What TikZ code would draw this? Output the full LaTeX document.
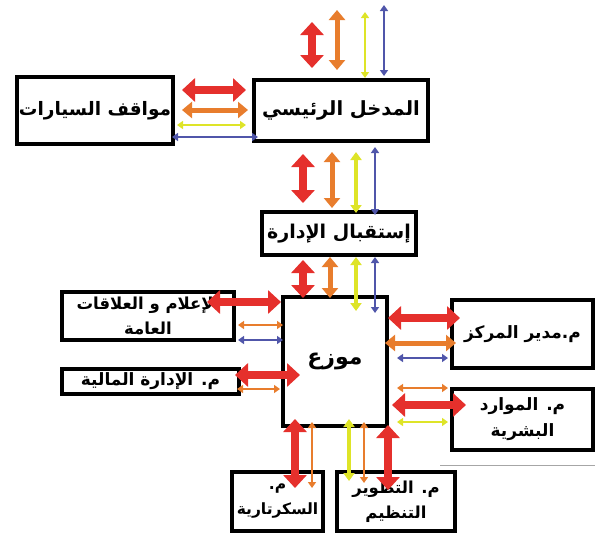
\documentclass[tikz,border=0pt]{standalone}
\usepackage{fontspec}
\usetikzlibrary{arrows.meta}
\newfontfamily\arabicfont[Script=Arabic]{DejaVu Sans}
\TeXXeTstate=1
\definecolor{ared}{RGB}{229,48,44}
\definecolor{aorange}{RGB}{232,125,45}
\definecolor{ayellow}{RGB}{222,228,40}
\definecolor{ablue}{RGB}{80,86,170}
\tikzset{
  box/.style={draw=black, line width=4pt, fill=white, inner sep=0pt, align=center,
    font=\arabicfont\bfseries\fontsize{17}{26}\selectfont},
  redA/.style={draw=ared, line width=7.5pt, {Triangle[width=23pt,length=13pt]}-{Triangle[width=23pt,length=13pt]}},
  orgM/.style={draw=aorange, line width=5pt, {Triangle[width=16pt,length=10pt]}-{Triangle[width=16pt,length=10pt]}},
  yelM/.style={draw=ayellow, line width=3.5pt, {Triangle[width=11pt,length=8pt]}-{Triangle[width=11pt,length=8pt]}},
  orgT/.style={draw=aorange, line width=2.5pt, {Triangle[width=8pt,length=6pt]}-{Triangle[width=8pt,length=6pt]}},
  yelT/.style={draw=ayellow, line width=2.5pt, {Triangle[width=8pt,length=6pt]}-{Triangle[width=8pt,length=6pt]}},
  bluT/.style={draw=ablue, line width=2.5pt, {Triangle[width=8pt,length=6pt]}-{Triangle[width=8pt,length=6pt]}},
}
\begin{document}
\begin{tikzpicture}[x=1pt,y=-1pt]
\useasboundingbox (0,0) rectangle (599,536);
% boxes
\node[box, minimum width=156pt, minimum height=67pt, font=\arabicfont\bfseries\fontsize{18.5}{24}\selectfont] (park) at (95,110.5) {\beginR مواقف السيارات\endR};
\node[box, minimum width=174pt, minimum height=61pt, font=\arabicfont\bfseries\fontsize{19.5}{24}\selectfont] (main) at (341,110.5) {\beginR المدخل الرئيسي\endR};
\node[box, minimum width=154pt, minimum height=43pt, font=\arabicfont\bfseries\fontsize{19}{22}\selectfont] (rec) at (339,233.5) {\beginR إستقبال الإدارة\endR};
\node[box, minimum width=104pt, minimum height=129pt, font=\arabicfont\bfseries\fontsize{22}{26}\selectfont] (hub) at (335,361.5) {\beginR موزع\endR};
\node[box, minimum width=172pt, minimum height=48pt, font=\arabicfont\bfseries\fontsize{16.5}{25}\selectfont] (pr) at (148,316) {\beginR الإعلام و العلاقات\endR\\\beginR العامة\endR};
\node[box, minimum width=177pt, minimum height=25pt] (fin) at (150.5,381.5) {\beginR م. الإدارة المالية\endR};
\node[box, minimum width=141pt, minimum height=68pt] (dir) at (522.5,334) {\beginR م.مدير المركز\endR};
\node[box, minimum width=141pt, minimum height=61pt] (hr) at (522.5,419.5) {\beginR م. الموارد\endR\\\beginR البشرية\endR};
\node[box, minimum width=91pt, minimum height=59pt, font=\arabicfont\bfseries\fontsize{15.5}{25}\selectfont] (sec) at (277.5,501.5) {\beginR م.\endR\\\beginR السكرتارية\endR};
\node[box, minimum width=118pt, minimum height=59pt, font=\arabicfont\bfseries\fontsize{16.5}{25}\selectfont] (dev) at (396,501.5) {\beginR م. التطوير\endR\\\beginR التنظيم\endR};
% thin rule
\coordinate (g1) at (440,465);
\coordinate (g2) at (595,465);
\draw[black!35, line width=0.8pt] (g1) -- (g2);
% free ends above the main entrance
\coordinate (t1) at (312,22);
\coordinate (t2) at (337,10);
\coordinate (t3) at (365,12);
\coordinate (t4) at (384,5);
\draw[redA, shorten >=10pt] (t1) -- (t1 |- main.north);
\draw[orgM, shorten >=8pt] (t2) -- (t2 |- main.north);
\draw[yelT] (t3) -- (t3 |- main.north);
\draw[bluT, shorten >=2pt] (t4) -- (t4 |- main.north);
% parking <-> main
\draw[redA, shorten <=7pt, shorten >=6pt] (park.east |- 0,90) -- (main.west |- 0,90);
\draw[orgM, shorten <=7pt, shorten >=4pt] (park.east |- 0,110) -- (main.west |- 0,110);
\draw[yelT, shorten <=2pt, shorten >=6pt] (park.east |- 0,125) -- (main.west |- 0,125);
\draw[bluT, shorten <=-3pt, shorten >=-6pt] (park.east |- 0,137) -- (main.west |- 0,137);
% main <-> reception
\draw[redA, shorten <=11pt, shorten >=7pt] (303,0 |- main.south) -- (303,0 |- rec.north);
\draw[orgM, shorten <=9pt, shorten >=2pt] (332,0 |- main.south) -- (332,0 |- rec.north);
\draw[yelM, shorten <=9pt, shorten >=-3pt] (356,0 |- main.south) -- (356,0 |- rec.north);
\draw[bluT, shorten <=4pt, shorten >=-5pt] (375,0 |- main.south) -- (375,0 |- rec.north);
% reception <-> hub
\draw[redA, shorten <=3pt, shorten >=-3pt] (303,0 |- rec.south) -- (303,0 |- hub.north);
\draw[orgM, shorten >=-3pt] (330,0 |- rec.south) -- (330,0 |- hub.north);
\draw[yelM, shorten >=-16pt] (356,0 |- rec.south) -- (356,0 |- hub.north);
\draw[bluT, shorten >=-18pt] (375,0 |- rec.south) -- (375,0 |- hub.north);
% public relations <-> hub
\draw[redA, shorten <=-29pt] (pr.east |- 0,302) -- (hub.west |- 0,302);
\draw[orgT, shorten <=2pt, shorten >=-2pt] (pr.east |- 0,325) -- (hub.west |- 0,325);
\draw[bluT, shorten <=2pt, shorten >=-2pt] (pr.east |- 0,340) -- (hub.west |- 0,340);
% finance <-> hub
\draw[redA, shorten <=-6pt, shorten >=-19pt] (fin.east |- 0,375) -- (hub.west |- 0,375);
\draw[orgT, shorten <=-4pt, shorten >=1pt] (fin.east |- 0,389) -- (hub.west |- 0,389);
% hub <-> director
\draw[redA, shorten <=-1pt, shorten >=-10pt] (hub.east |- 0,318) -- (dir.west |- 0,318);
\draw[orgM, shorten <=-4pt, shorten >=-6pt] (hub.east |- 0,343) -- (dir.west |- 0,343);
\draw[bluT, shorten <=8pt, shorten >=2pt] (hub.east |- 0,358) -- (dir.west |- 0,358);
% hub <-> human resources
\draw[orgT, shorten <=8pt, shorten >=2pt] (hub.east |- 0,388) -- (hr.west |- 0,388);
\draw[redA, shorten <=3pt, shorten >=-16pt] (hub.east |- 0,405) -- (hr.west |- 0,405);
\draw[yelT, shorten <=8pt, shorten >=2pt] (hub.east |- 0,422) -- (hr.west |- 0,422);
% hub <-> secretariat
\draw[redA, shorten <=-9pt, shorten >=-18pt] (295,0 |- hub.south) -- (295,0 |- sec.north);
\draw[orgT, shorten <=-6pt, shorten >=-18pt] (312,0 |- hub.south) -- (312,0 |- sec.north);
% hub <-> development
\draw[yelM, shorten <=-9pt, shorten >=-11pt] (349,0 |- hub.south) -- (349,0 |- dev.north);
\draw[orgT, shorten <=-6pt, shorten >=-13pt] (364,0 |- hub.south) -- (364,0 |- dev.north);
\draw[redA, shorten <=-3pt, shorten >=-20pt] (388,0 |- hub.south) -- (388,0 |- dev.north);
\end{tikzpicture}
\end{document}
